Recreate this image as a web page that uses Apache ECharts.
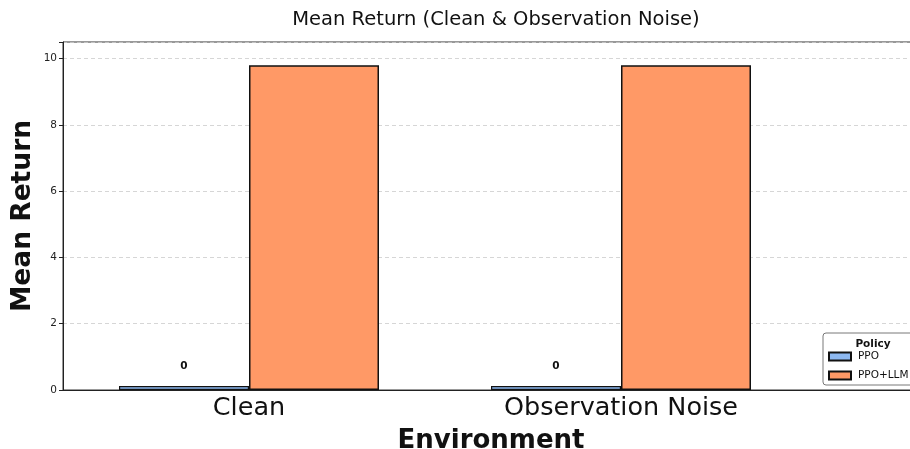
<!DOCTYPE html>
<html><head><meta charset="utf-8">
<script src="https://cdn.jsdelivr.net/npm/echarts@6/dist/echarts.min.js"></script>
<style>html,body{margin:0;padding:0;background:#fff}#c{width:910px;height:449px}</style>
</head><body><div id="c"></div>
<script>
const categories = ['Clean', 'Observation Noise'];
const seriesNames = ['PPO', 'PPO+LLM'];
const ppoValues = [0.12, 0.12];
const ppoLlmValues = [9.8, 9.8];
const ppoLabels = ['0', '0'];
const yTicks = [0, 2, 4, 6, 8, 10];

const chart = echarts.init(document.getElementById('c'));
const font = 'DejaVu Sans';
chart.setOption({
  animation: false,
  textStyle: {fontFamily: font},
  title: [
    {text: 'Mean Return (Clean & Observation Noise)', left: 491, top: 5, textAlign: 'center',
     textStyle: {fontFamily: font, fontSize: 19.5, fontWeight: 'normal', color: '#111'}},
    {text: 'Policy', left: 868, top: 334, textAlign: 'center',
     textStyle: {fontFamily: font, fontSize: 10.5, fontWeight: 'bold', color: '#111'}}
  ],
  legend: {
    orient: 'vertical', left: 823, top: 333, padding: [18, 8, 4, 5],
    itemWidth: 22, itemHeight: 8, itemGap: 8,
    borderColor: '#555', borderWidth: 0.8, borderRadius: 3, backgroundColor: '#fff',
    icon: 'rect',
    textStyle: {fontFamily: font, fontSize: 10.5, color: '#111', padding: [0, 0, 0, 2]},
    data: seriesNames
  },
  grid: [
    {left: 63, right: -9, top: 42, bottom: 59, show: true, borderColor: '#333', borderWidth: 1,
     containLabel: false, outerBoundsMode: 'none'},
    {left: 63, width: 744, top: 42, bottom: 59, containLabel: false, outerBoundsMode: 'none'}
  ],
  xAxis: [
    {type: 'value', gridIndex: 0, min: 0, max: 1, show: true,
     axisLine: {show: true, lineStyle: {color: '#222', width: 1}}, axisTick: {show: false},
     axisLabel: {show: false}, splitLine: {show: false},
     name: 'Environment', nameLocation: 'middle', nameGap: 38, nameMoveOverlap: false,
     nameTextStyle: {fontFamily: font, fontSize: 26, fontWeight: 'bold', color: '#111'}},
    {type: 'category', gridIndex: 1, data: categories,
     axisLine: {lineStyle: {color: '#222', width: 1}},
     axisTick: {alignWithLabel: true, length: 4, lineStyle: {color: '#222'}},
     axisLabel: {fontFamily: font, fontSize: 25.5, color: '#111', margin: 5}}
  ],
  yAxis: [
    {type: 'value', gridIndex: 0, min: 0, max: 10.5, interval: 2,
     axisLine: {show: true, lineStyle: {color: '#222'}},
     axisTick: {show: true, length: 4, lineStyle: {color: '#222'}},
     axisLabel: {fontFamily: font, fontSize: 10.5, color: '#222', margin: 6,
       formatter: v => (yTicks.indexOf(v) >= 0 ? String(v) : '')},
     splitLine: {show: true, lineStyle: {color: '#cccccc', type: [4, 3], width: 0.8}},
     name: 'Mean Return', nameLocation: 'middle', nameGap: 26, nameMoveOverlap: false,
     nameTextStyle: {fontFamily: font, fontSize: 26.5, fontWeight: 'bold', color: '#111'}},
    {type: 'value', gridIndex: 1, min: 0, max: 10.5, show: false, splitLine: {show: false}}
  ],
  series: [
    {name: seriesNames[0], type: 'bar', xAxisIndex: 1, yAxisIndex: 1, data: ppoValues,
     barWidth: 130, barGap: '0%',
     itemStyle: {color: '#8db8f0', borderColor: '#111', borderWidth: 1.2},
     label: {show: true, position: 'top', distance: 14, fontFamily: font, fontSize: 10.5, fontWeight: 'bold', color: '#111',
       formatter: p => ppoLabels[p.dataIndex]}},
    {name: seriesNames[1], type: 'bar', xAxisIndex: 1, yAxisIndex: 1, data: ppoLlmValues,
     barWidth: 130, barGap: '0%',
     itemStyle: {color: '#ff9966', borderColor: '#111', borderWidth: 1.5}}
  ]
});
</script></body></html>
